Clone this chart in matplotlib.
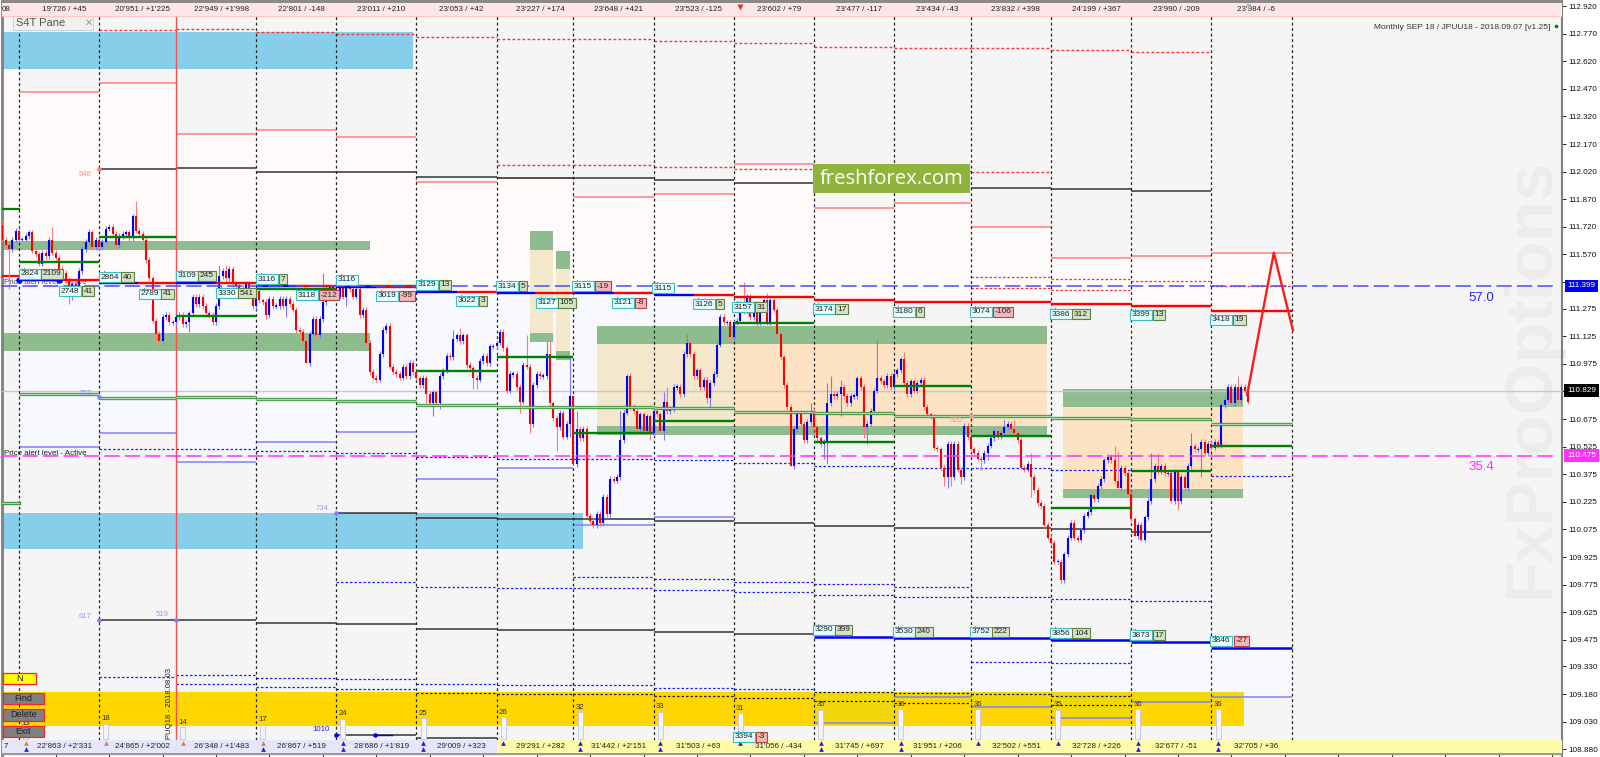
import matplotlib
matplotlib.use("Agg")
import matplotlib.pyplot as plt
from matplotlib.patches import Rectangle

plt.rcParams['font.family'] = ['Liberation Sans', 'DejaVu Sans']

# ---------- chart values ----------
session_starts = [0, 24, 47, 71, 95, 119, 143, 166, 190, 214, 238, 262, 285, 309, 333, 357, 381]
top_labels = ["19'726 / +45", "20'951 / +1'225", "22'949 / +1'998", "22'801 / -148", "23'011 / +210", "23'053 / +42",
              "23'227 / +174", "23'648 / +421", "23'523 / -125", "23'602 / +79", "23'477 / -117", "23'434 / -43",
              "23'832 / +398", "24'199 / +367", "23'990 / -209", "23'984 / -6"]
bottom_labels = ["22'863 / +2'331", "24'865 / +2'002", "26'348 / +1'483", "26'867 / +519", "28'686 / +1'819",
                 "29'009 / +323", "29'291 / +282", "31'442 / +2'151", "31'503 / +63", "31'056 / -434",
                 "31'745 / +697", "31'951 / +206", "32'502 / +551", "32'728 / +226", "32'677 / -51", "32'705 / +36"]
session_counts = [13, 18, 14, 17, 24, 25, 26, 32, 33, 31, 35, 36, 36, 35, 36, 36]
arrow_pairs = [2, 1, 1, 2, 2, 2, 1, 2, 2, 1, 2, 2, 1, 1, 2, 2]

first_open = 111.73
closes_pre = [111.65, 111.62, 111.60, 111.65, 111.70]
closes_s0 = [111.65, 111.65, 111.67, 111.69, 111.59, 111.57, 111.52, 111.58, 111.56, 111.65, 111.58, 111.55,
             111.49, 111.47, 111.43, 111.38, 111.41, 111.40, 111.48, 111.60, 111.64, 111.69, 111.61, 111.65]
closes_s1 = [111.61, 111.64, 111.71, 111.72, 111.68, 111.62, 111.67, 111.68, 111.69, 111.66, 111.78, 111.70,
             111.68, 111.65, 111.54, 111.44, 111.21, 111.14, 111.10, 111.23, 111.24, 111.20, 111.20]
closes_s2 = [111.23, 111.24, 111.19, 111.20, 111.25, 111.34, 111.30, 111.34, 111.29, 111.25, 111.24, 111.20,
             111.29, 111.45, 111.48, 111.44, 111.49, 111.41, 111.40, 111.39, 111.38, 111.41, 111.36, 111.29]
closes_s3 = [111.37, 111.32, 111.31, 111.24, 111.33, 111.29, 111.29, 111.33, 111.29, 111.33, 111.30, 111.27,
             111.16, 111.15, 111.10, 110.98, 111.14, 111.22, 111.13, 111.22, 111.31, 111.39, 111.39, 111.39]
closes_s4 = [111.34, 111.39, 111.34, 111.40, 111.38, 111.34, 111.38, 111.24, 111.27, 111.09, 110.93, 110.90,
             110.89, 111.03, 111.16, 111.18, 110.96, 110.93, 110.92, 110.90, 110.96, 110.91, 110.98, 110.93]
closes_s5 = [110.90, 110.86, 110.90, 110.81, 110.76, 110.82, 110.76, 110.91, 110.94, 111.02, 111.01, 111.11,
             111.13, 111.10, 111.13, 110.97, 110.95, 110.90, 110.89, 110.99, 111.02, 110.98, 111.07, 111.07]
closes_s6 = [111.09, 111.15, 111.06, 110.83, 110.92, 110.92, 110.85, 110.77, 110.97, 110.96, 110.65, 110.86,
             110.92, 110.91, 110.91, 111.03, 110.76, 110.68, 110.63, 110.71, 110.58, 110.65, 110.80]
closes_s7 = [110.43, 110.62, 110.57, 110.62, 110.15, 110.12, 110.10, 110.16, 110.11, 110.25, 110.16, 110.35,
             110.34, 110.36, 110.56, 110.71, 110.91, 110.74, 110.72, 110.62, 110.70, 110.61, 110.69, 110.60]
closes_s8 = [110.72, 110.70, 110.61, 110.77, 110.72, 110.73, 110.85, 110.85, 110.81, 111.03, 111.09, 111.03,
             110.91, 110.94, 110.85, 110.89, 110.79, 110.87, 110.92, 111.08, 111.23, 111.20, 111.20, 111.12]
closes_s9 = [111.20, 111.21, 111.30, 111.26, 111.34, 111.23, 111.30, 111.20, 111.29, 111.32, 111.20, 111.32,
             111.27, 111.14, 111.01, 110.86, 110.74, 110.42, 110.62, 110.71, 110.65, 110.56, 110.66, 110.72]
closes_s10 = [110.63, 110.57, 110.54, 110.55, 110.76, 110.81, 110.80, 110.81, 110.85, 110.80, 110.76, 110.80,
              110.80, 110.90, 110.85, 110.63, 110.65, 110.72, 110.83, 110.90, 110.88, 110.86, 110.91, 110.85]
closes_s11 = [110.92, 110.94, 111.00, 110.87, 110.81, 110.88, 110.83, 110.87, 110.89, 110.74, 110.70, 110.69,
              110.52, 110.51, 110.41, 110.36, 110.54, 110.36, 110.54, 110.40, 110.36, 110.64, 110.58]
closes_s12 = [110.51, 110.49, 110.46, 110.45, 110.49, 110.53, 110.57, 110.61, 110.58, 110.60, 110.63, 110.65,
              110.62, 110.60, 110.56, 110.41, 110.40, 110.43, 110.36, 110.29, 110.22, 110.20, 110.10, 110.03]
closes_s13 = [110.00, 109.90, 109.90, 109.80, 109.94, 110.03, 110.11, 110.03, 110.02, 110.07, 110.15, 110.17,
              110.26, 110.24, 110.31, 110.35, 110.45, 110.47, 110.45, 110.34, 110.30, 110.41, 110.38, 110.27]
closes_s14 = [110.13, 110.04, 110.10, 110.02, 110.14, 110.23, 110.35, 110.42, 110.39, 110.42, 110.38, 110.38,
              110.23, 110.39, 110.23, 110.36, 110.30, 110.42, 110.53, 110.51, 110.51, 110.55, 110.49, 110.54]
closes_s15 = [110.52, 110.55, 110.53, 110.75, 110.78, 110.85, 110.76, 110.85, 110.78, 110.85, 110.83, 110.77]

long_highs = {10: 111.72, 21: 111.71, 34: 111.79, 35: 111.86, 60: 111.51, 62: 111.51, 91: 111.47, 130: 111.16,
              132: 111.17, 152: 111.13, 158: 111.10, 159: 111.10, 165: 111.01, 166: 110.58, 167: 110.72,
              180: 110.72, 182: 110.92, 193: 110.82, 194: 110.85, 200: 111.14, 217: 111.42, 224: 111.36,
              237: 110.76, 242: 110.87, 243: 110.91, 246: 110.89, 251: 110.91, 257: 111.11, 265: 111.04,
              295: 110.67, 298: 110.67, 303: 110.49, 316: 110.13, 328: 110.53, 329: 110.50, 339: 110.49,
              341: 110.49, 351: 110.60, 365: 110.91}
long_lows = {-3: 111.38, 15: 111.30, 16: 111.32, 41: 111.09, 42: 111.09, 51: 111.15, 74: 111.22, 80: 111.23,
             86: 110.98, 98: 111.29, 122: 110.76, 124: 110.69, 126: 110.73, 136: 110.84, 137: 110.84, 150: 110.71,
             153: 110.60, 154: 110.63, 161: 110.50, 165: 110.58, 166: 110.43, 189: 110.56, 193: 110.56,
             206: 110.76, 207: 110.73, 221: 111.15, 231: 110.42, 241: 110.46, 242: 110.43, 246: 110.69,
             253: 110.57, 254: 110.54, 277: 110.31, 278: 110.30, 279: 110.31, 282: 110.32, 288: 110.40,
             290: 110.45, 300: 110.40, 303: 110.25, 312: 109.78, 329: 110.30, 334: 110.04, 336: 110.01,
             345: 110.22, 347: 110.18, 354: 110.36}
forecast_bars = [367.7, 375.7, 381.4]
forecast_prices = [110.805, 111.579, 111.159]

top_dash = [None, 112.79, 112.795, 112.78, 112.77, 112.75, 112.74, 112.74, 112.73, 112.72, 112.70, 112.69, 112.69, 112.68, 112.67, None]
second_dash = [None, None, None, None, None, None, 112.056, 112.056, 112.045, 112.034, 112.023, 112.023, 112.018, None, None, None]
lower_dash_a = [None] * 12 + [111.447, 111.436, 111.425, 111.398]
lower_dash_b = [None] * 12 + [111.387, 111.376, None, None]
red_top = [112.453, 112.50, 112.224, 112.246, 112.208, 111.964, 111.985, 111.882, 111.898, 112.061, 111.822, 111.849, 111.719, 111.55, 111.561, 111.578]
black_upper = [None, 112.034, 112.04, 112.018, 112.018, 111.99, 111.985, 111.985, 111.974, 111.958, None, None, 111.93, 111.925, 111.914, None]
pivot = [111.431, 111.414, 111.414, 111.398, 111.393, 111.366, 111.36, 111.36, 111.349, 111.338, 111.322, 111.311, 111.311, 111.30, 111.29, 111.262]
green_dark = [111.527, 111.665, 111.235, 111.382, 111.398, 110.936, 111.012, 110.599, 110.665, 111.197, 110.55, 110.855, 110.583, 110.192, 110.393, 110.529]
green_pale = [110.811, 110.79, 110.795, 110.784, 110.773, 110.751, 110.74, 110.74, 110.735, 110.713, 110.708, 110.692, 110.692, 110.681, 110.675, 110.648]
lower_bound = [110.523, 110.599, 110.442, 110.55, 110.605, 110.349, 110.409, 110.10, 110.143, None, 109.023, 109.164, 109.11, 109.05, 109.137, 109.164]
blue_thick = [None] * 10 + [109.49, 109.484, 109.484, 109.474, 109.463, 109.43]
dotted_1 = [None, 110.513, 110.513, 110.502, 110.491, 110.469, 110.458, 110.458, 110.453, 110.436, 110.42, 110.409, 110.409, 110.398, None, 110.366]
dotted_2a = [None, None, None, None, 109.789, 109.762, 109.757, 109.817, 109.806, 109.789, 109.779, 109.762, 109.708, 109.697, 109.686, None]
dotted_2b = [None] * 7 + [109.757, 109.746, 109.735, 109.719, 109.708, 109.355, 109.35, None, None]
dotted_3a = [None, 109.273, 109.284, 109.268, 109.262, 109.235, 109.23, 109.23, 109.213, 109.208] + [None] * 6
dotted_3b = [None, None, 109.235, 109.219, 109.208] + [None] * 11
black_dash_a = [None] * 5 + [109.186, 109.181, 109.181, 109.17, 109.16, 109.192, 109.186, 109.181, 109.17, None, None]
black_dash_b = [None] * 10 + [109.143, 109.132, None, 109.12, None, None]
black_lower_1 = [None] * 4 + [110.165, 110.138, 110.132, 110.132, 110.121, 110.11, 110.094, 110.083, 110.083, 110.077, 110.06, None]
black_lower_2 = [None, 109.583, 109.583, 109.567, 109.562, 109.534, 109.529, 109.529, 109.518, 109.507] + [None] * 6
black_base = [None] * 4 + [108.96, 108.94] + [None] * 10
dark_yellow = [None] * 10 + [109.023, 109.164, 109.11, 109.05, 109.137, 109.164]

label_bars = [3.3, 15.3, 27.2, 39.2, 50.3, 62.3, 74.3, 86.2, 98.2, 110.2, 122.2, 134.1, 146.1, 158.1, 168.9, 180.8,
              192.8, 205.1, 216.8, 241, 265, 288, 312, 336, 360, 241, 265, 288, 312, 336, 360, 217]
label_prices = [111.464, 111.371, 111.447, 111.355, 111.453, 111.36, 111.436, 111.349, 111.431, 111.344, 111.404,
                111.317, 111.398, 111.306, 111.398, 111.306, 111.387, 111.30, 111.284, 111.273, 111.257, 111.257,
                111.246, 111.241, 111.214, 109.529, 109.518, 109.518, 109.512, 109.501, 109.469, 108.947]
label_values = ['2824', '2748', '2864', '2789', '3109', '3330', '3116', '3118', '3116', '3019', '3129', '3022',
                '3134', '3127', '3115', '3121', '3115', '3126', '3157', '3174', '3180', '3074', '3386', '3399',
                '3418', '3290', '3530', '3752', '3856', '3873', '3846', '3394']
label_deltas = ['2109', '41', '40', '41', '245', '541', '7', '-212', None, '-99', '13', '3', '5', '105', '-19', '-8',
                None, '5', '31', '17', '6', '-106', '312', '13', '19', '399', '240', '222', '104', '17', '-27', '-3']

right_ticks = [112.92, 112.77, 112.62, 112.47, 112.32, 112.17, 112.02, 111.87, 111.72, 111.57, 111.42, 111.275,
               111.125, 110.975, 110.825, 110.675, 110.525, 110.375, 110.225, 110.075, 109.925, 109.775, 109.625,
               109.475, 109.33, 109.18, 109.03, 108.88]
alert_high, alert_low, last_price = 111.399, 110.475, 110.829
pct_high, pct_low = '57.0', '35.4'

# ---------- figure: one axes, bars on x, price on y ----------
W, H = 1600, 757
fig = plt.figure(figsize=(16, 7.57), dpi=100, facecolor='white')
ax = fig.add_axes([2 / W, 0, 1560 / W, 1], facecolor='#f5f5f5')
XMIN, XMAX = -5.09, 461.98
YMIN, YMAX = 108.838, 112.953
ax.set_xlim(XMIN, XMAX)
ax.set_ylim(YMIN, YMAX)
PXB = 3.34
starts, ends = session_starts[:-1], session_starts[1:]


def box(x0, x1, y0, y1, color, z=1, **kw):
    ax.add_patch(Rectangle((x0, y0), x1 - x0, y1 - y0, fc=color, ec='none', zorder=z, **kw))


def levels(values, color, lw, ls='-', z=3, alpha=1.0):
    for v, a, b in zip(values, starts, ends):
        if v is not None:
            ax.plot([a, b], [v, v], color=color, lw=lw, ls=ls, zorder=z, alpha=alpha, solid_capstyle='butt')


# session shading
box(XMIN, 0, pivot[0] + 0.03, 112.60, '#fffafa')
for i, (a, b) in enumerate(zip(starts, ends)):
    box(a, b, pivot[i], red_top[i], '#fffafa')
    if i <= 8:
        box(a, b, lower_bound[i], pivot[i], '#f8f8ff')
    elif blue_thick[i] is not None:
        box(a, b, lower_bound[i], blue_thick[i], '#f8f8ff')

# coloured zones
SKY, GRN, WHEAT, PEACH = '#87ceeb', '#8fbc8f', '#f3e8cc', '#fde3c4'
box(XMIN, 118, 112.578, 112.779, SKY, 2)
box(XMIN, 168.9, 109.969, 110.165, SKY, 2)
box(XMIN, 105, 111.594, 111.643, GRN, 2)
box(XMIN, 105, 111.045, 111.143, GRN, 2)
box(153, 160, 111.143, 111.594, WHEAT, 2)
box(153, 160, 111.594, 111.697, GRN, 2)
box(153, 160, 111.094, 111.143, GRN, 2)
box(160.8, 165, 111.045, 111.491, WHEAT, 2)
box(160.8, 165, 111.491, 111.589, GRN, 2)
box(160.8, 165, 110.996, 111.045, GRN, 2)
box(173, 214, 110.637, 111.082, WHEAT, 2)
box(214, 307.8, 110.637, 111.082, PEACH, 2)
box(173, 307.8, 111.082, 111.18, GRN, 2)
box(173, 307.8, 110.588, 110.637, GRN, 2)
box(312.6, 366.5, 110.295, 110.74, PEACH, 2)
box(312.6, 366.5, 110.74, 110.838, GRN, 2)
box(312.6, 366.5, 110.246, 110.295, GRN, 2)
box(XMIN, 366.8, 109.007, 109.192, '#ffd700', 2)
for v, a, b in zip(dark_yellow, starts, ends):
    if v is not None:
        box(a, min(b, 366.8), max(v, 109.007), 109.192, '#f1d909', 2)

# vertical session lines
for i, s in enumerate(session_starts):
    if i != 2:
        ax.plot([s, s], [108.93, 112.87], color='#222222', lw=0.9, ls=(0, (2.2, 2.2)), zorder=4)
ax.plot([47, 47], [108.866, 112.95], color='#ff4d4d', lw=1.0, zorder=4)

# horizontal levels
levels(top_dash, '#ff3030', 1.0, (0, (2, 1.6)))
levels(second_dash, '#ff3030', 1.0, (0, (2, 1.6)))
levels(lower_dash_a, '#ff3030', 0.9, (0, (2, 1.6)))
levels(lower_dash_b, '#ff3030', 0.9, (0, (2, 1.6)))
levels(red_top, '#ff7f7f', 1.1)
levels(black_upper, '#333333', 1.1)
levels(black_lower_1, '#333333', 1.1)
levels(black_lower_2, '#333333', 1.1)
levels(black_base, '#333333', 1.1)
levels(lower_bound, '#8080ff', 1.1)
levels(blue_thick, '#0000ff', 1.8, z=6)
for d in (dotted_1, dotted_2a, dotted_2b, dotted_3a, dotted_3b):
    levels(d, '#2020ff', 0.9, (0, (2, 1.6)))
for d in (black_dash_a, black_dash_b):
    levels(d, '#222222', 0.9, (0, (2, 1.6)))

ax.plot([XMIN, 0], [111.817, 111.817], color='#008000', lw=1.6, zorder=5)
ax.plot([XMIN, 0], [110.219, 110.219], color='#2e8b2e', lw=2.4, zorder=5)
ax.plot([XMIN, 0], [110.219, 110.219], color='#a8d8a8', lw=1.0, zorder=5)
ax.plot([XMIN, 0], [111.45, 111.45], color='#ff0000', lw=1.5, zorder=5)

# candles
closes = (closes_pre + closes_s0 + closes_s1 + closes_s2 + closes_s3 + closes_s4 + closes_s5 + closes_s6 + closes_s7
          + closes_s8 + closes_s9 + closes_s10 + closes_s11 + closes_s12 + closes_s13 + closes_s14 + closes_s15)
prev = first_open
for k, c in enumerate(closes):
    bar = k - len(closes_pre)
    o = prev
    col, wick = ('#0000ff', '#7a7aff') if c >= o else ('#ff0000', '#ff7a7a')
    hi = long_highs.get(bar, max(o, c) + 0.015)
    lo = long_lows.get(bar, min(o, c) - 0.015)
    ax.plot([bar, bar], [lo, hi], color=wick, lw=0.8, zorder=7, solid_capstyle='butt')
    top, bot = max(o, c), min(o, c)
    if top - bot < 0.008:
        top += 0.004
        bot -= 0.004
    ax.plot([bar, bar], [bot, top], color=col, lw=1.5, zorder=8, solid_capstyle='butt')
    prev = c

# pale + dark green and pivot levels over the candles
levels(green_pale, '#2e8b2e', 2.4, z=9, alpha=0.9)
levels(green_pale, '#a8d8a8', 1.0, z=9)
levels(green_dark, '#008000', 1.7, z=9)
for i, (a, b) in enumerate(zip(starts, ends)):
    if i <= 8:
        m = (a + b) / 2
        ax.plot([a, m], [pivot[i]] * 2, color='#0000ff', lw=1.7, zorder=9, solid_capstyle='butt')
        ax.plot([m, b], [pivot[i]] * 2, color='#ff0000', lw=1.7, zorder=9, solid_capstyle='butt')
    else:
        ax.plot([a, b], [pivot[i]] * 2, color='#ff0000', lw=1.7, zorder=9, solid_capstyle='butt')

ax.plot(forecast_bars, forecast_prices, color='#ff1a1a', lw=1.7, zorder=10)

# alert lines and last price
ax.plot([XMIN, 460.6], [alert_high] * 2, color='#4a4aff', lw=1.1, ls=(0, (10, 3.4)), zorder=9)
ax.plot([XMIN, 460.6], [alert_low] * 2, color='#ff30ff', lw=1.1, ls=(0, (10, 3.4)), zorder=9)
ax.plot([XMIN, XMAX], [last_price] * 2, color='#c8c8c8', lw=1.0, zorder=3)
ax.text(437.7, 111.335, pct_high, color='#2020ff', fontsize=9.5, ha='center', va='center', zorder=11)
ax.text(437.7, 110.413, pct_low, color='#ff30ff', fontsize=9.5, ha='center', va='center', zorder=11)

# watermark
ax.text(452.7, 110.898, 'FxProOptions', rotation=90, color='#ececec', fontsize=48, fontweight='bold',
        ha='center', va='center', zorder=1.5)

# session top and bottom bars
box(XMIN, XMAX, 112.868, 112.935, '#ffe6e6', 12)
box(XMIN, XMAX, 112.862, 112.868, '#ffc4c4', 12)
box(XMIN, 143, 108.862, 108.93, '#e6e6fa', 12)
box(143, XMAX, 108.862, 108.93, '#fdfaa8', 12)
box(XMIN, XMAX, 108.85, 108.862, '#9a9a9a', 12)
box(XMIN, XMAX, 112.935, YMAX, '#8a8a8a', 12)
ax.text(-3.9, 112.90, '08', fontsize=5.8, va='center', ha='center', color='#222222', zorder=13)
ax.text(-3.9, 108.896, '7', fontsize=5.8, va='center', ha='center', color='#222222', zorder=13)
for a, b, t, u in zip(starts, ends, top_labels, bottom_labels):
    mid = (a + b) / 2 + 1.5
    ax.text(mid, 112.90, t, fontsize=5.8, va='center', ha='center', color='#222222', zorder=13)
    ax.text(mid, 108.896, u, fontsize=5.8, va='center', ha='center', color='#222222', zorder=13)

# session count bars
BASE, UNIT = 108.936, 0.0045
for a, n in zip(starts, session_counts):
    x = a + 2
    ax.add_patch(Rectangle((x - 0.75, BASE), 1.5, n * UNIT, fc='#f4f4ff', ec='#c8c8f0', lw=0.7, zorder=6))
    ax.text(x, BASE + n * UNIT + 0.028, str(n), fontsize=5.6, ha='center', va='center', color='#333333', zorder=7)

for i, (a, pairs) in enumerate(zip(starts, arrow_pairs)):
    x = a + 2
    col = '#cd853f' if i <= 3 else '#2020e0'
    ax.plot([x], [108.914], marker='^', ms=3.4, color=col, mec='none', zorder=14)
    if pairs == 2:
        ax.plot([x], [108.882], marker='^', ms=3.4, color='#2020e0', mec='none', zorder=14)

# value labels
FS = 6.0
for x, p, v, d in zip(label_bars, label_prices, label_values, label_deltas):
    ax.plot([x - 1.8], [p + 0.029], marker='^', ms=2.6, color='#008b8b', mec='none', zorder=14)
    ax.text(x, p, v, fontsize=FS, ha='center', va='center', color='#222222', zorder=15,
            bbox=dict(boxstyle='square,pad=0.2', fc='#e4ffff', ec='#3fbcc0', lw=0.8))
    if d is not None:
        neg = d.startswith('-')
        w = 3.9 * len(d) + 5
        off = (11.5 + w / 2) * 0.72
        ax.annotate(d, (x, p), xytext=(off, 0), textcoords='offset points', fontsize=FS, ha='center', va='center',
                    color='#222222', zorder=15,
                    bbox=dict(boxstyle='square,pad=0.2', fc='#f2b8b8' if neg else '#d5e3c5',
                              ec='#c04040' if neg else '#5f8040', lw=0.8))

# small level notes: text position, dot position, text
notes = [(19.7, 112.005, 24, 112.034, '548', '#ff9494', '#ff7a7a'),
         (19.7, 110.815, 24, 110.795, '752', '#9a9aff', '#8080ff'),
         (90.7, 110.19, 95, 110.165, '734', '#9a9aff', '#8080ff'),
         (19.7, 109.60, 24, 109.583, '617', '#9a9aff', '#8080ff'),
         (42.8, 109.61, 47, 109.583, '519', '#9a9aff', '#8080ff'),
         (280.7, 110.665, 285, 110.692, '520', '#ff9494', '#ff9a9a'),
         (90.3, 108.99, 95, 108.96, '1010', '#2020ff', '#0000ff')]
for tx, ty, px, py, s, tc, dc in notes:
    ax.text(tx, ty, s, fontsize=5.6, color=tc, ha='center', va='center', zorder=11)
    ax.plot([px], [py], marker='o', ms=3.3, color=dc, mec='none', zorder=11)
ax.plot([106.7, 111.8], [108.96, 108.96], color='#0000ff', lw=1.0, zorder=11)
ax.plot([106.7], [108.96], marker='o', ms=3.3, color='#0000ff', mec='none', zorder=11)
ax.plot([0, 12], [pivot[0], pivot[0]], marker='o', ms=4.6, color='#0000ff', mec='none', ls='none', zorder=11)

ax.text(-4.6, 110.488, 'Price alert level - Active', fontsize=5.7, color='#222222', va='center', zorder=11)
ax.text(-4.6, 111.416, 'Price alert level - Active', fontsize=5.7, color='#555555', va='center', zorder=6)
ax.text(45.2, 109.12, 'JPUQ18 - 2018.08.03', fontsize=5.6, rotation=90, color='#222222', ha='center', va='center', zorder=11)

# panel tab, buttons, header
ax.add_patch(Rectangle((-1.8, 112.79), 24, 0.075, fc='#f0f0f0', ec='#d0d0d0', lw=0.7, zorder=11))
ax.text(-1.0, 112.83, 'S4T Pane', fontsize=8, color='#555555', va='center', zorder=12)
ax.text(21, 112.83, '✕', fontsize=7, color='#999999', va='center', ha='center', zorder=12)
buttons = [('N', 36, 109.235, 109.295, '#ffff00'), ('Find', 44, 109.127, 109.187, '#808080'),
           ('Delete', 44, 109.035, 109.10, '#808080'), ('Exit', 44, 108.945, 109.007, '#808080')]
for s, rpx, y0, y1, fc in buttons:
    x1 = (rpx - 19) / PXB
    ax.add_patch(Rectangle((-4.8, y0), x1 + 4.8, y1 - y0, fc=fc, ec='#ff2020', lw=0.9, zorder=12))
    ax.text((x1 - 4.8) / 2, (y0 + y1) / 2, s, fontsize=6.6, color='#222222', ha='center', va='center', zorder=13)

ax.text(458.5, 112.805, 'Monthly SEP 18 / JPUU18 - 2018.09.07 [v1.25]', fontsize=6, color='#333333',
        ha='right', va='center', zorder=11)
ax.plot([460.3], [112.81], marker='o', ms=2.6, color='#008000', mec='none', zorder=11)
ax.plot([216], [112.915], marker='v', ms=4.4, color='#e03030', mec='none', zorder=14)
ax.plot([368], [112.92], marker='v', ms=3.6, color='#b0b0b0', mec='none', zorder=14)

# freshforex badge
box(237.7, 284.7, 111.904, 112.061, '#8fb33c', 16)
ax.text(261.2, 111.982, 'freshforex.com', family=['Open Sans', 'DejaVu Sans'], fontsize=14.6, color='white',
        ha='center', va='center', zorder=17)

# axes furniture
ax.yaxis.tick_right()
ax.set_yticks(right_ticks)
ax.set_yticklabels([f'{t:.3f}' for t in right_ticks], fontsize=5.9, color='#111111')
ax.tick_params(axis='y', length=3, width=0.7, pad=1.5, color='#222222')
ax.set_xticks(list(range(11, 462, 16)))
ax.set_xticklabels([])
ax.tick_params(axis='x', direction='in', length=3, width=0.7, color='#333333')
for name in ('top', 'bottom'):
    ax.spines[name].set_visible(False)
ax.spines['left'].set_color('#808080')
ax.spines['left'].set_linewidth(2)
ax.spines['right'].set_color('#808080')
ax.spines['right'].set_linewidth(1.5)

tags = [(alert_high, '111.399', '#0000ff', 'white'), (alert_low, '110.475', '#ff30ff', 'white'),
        (last_price, '110.829', '#000000', 'white')]
for p, s, fc, tc in tags:
    ax.annotate(s, (1, p), xycoords=('axes fraction', 'data'), xytext=(14, 0), textcoords='offset points',
                fontsize=5.9, color=tc, ha='center', va='center', annotation_clip=False, zorder=20,
                bbox=dict(boxstyle='square,pad=0.35', fc=fc, ec='none'))

fig.savefig('out.png', dpi=100, facecolor='white')
